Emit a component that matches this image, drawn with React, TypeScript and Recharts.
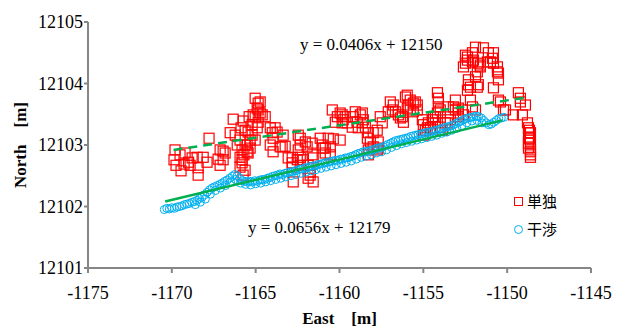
import { ScatterChart, Scatter, XAxis, YAxis, Label } from "recharts";

const xTicks = [-1175, -1170, -1165, -1160, -1155, -1150, -1145];
const yTicks = [12101, 12102, 12103, 12104, 12105];

// 単独 (single) – red squares
const tandokuPts: [number, number][] = [
  [-1169.81, 12102.92], [-1169.87, 12102.76], [-1169.75, 12102.67], [-1169.45, 12102.58],
  [-1169.21, 12102.87], [-1169.27, 12102.69], [-1169.51, 12102.84], [-1168.91, 12102.67],
  [-1168.79, 12102.79], [-1168.49, 12102.8], [-1168.43, 12102.63], [-1168.43, 12102.51],
  [-1168.13, 12102.8], [-1167.9, 12102.72], [-1167.78, 12103.11], [-1167.24, 12102.77],
  [-1167.12, 12102.92], [-1166.94, 12102.9], [-1167.12, 12102.67], [-1166.82, 12102.87],
  [-1166.94, 12102.76], [-1169.0, 12102.72],
  [-1166.34, 12103.42], [-1166.52, 12103.2], [-1165.75, 12103.39], [-1165.87, 12103.28],
  [-1165.39, 12103.46], [-1166.22, 12103.16], [-1165.93, 12103.08], [-1165.63, 12103.24],
  [-1165.45, 12103.21], [-1165.63, 12103.0], [-1165.81, 12102.92], [-1165.51, 12103.0],
  [-1165.45, 12102.87], [-1165.93, 12102.8], [-1165.81, 12102.76], [-1165.51, 12102.89],
  [-1165.93, 12102.64], [-1165.81, 12102.71], [-1165.75, 12102.51], [-1165.63, 12102.59],
  [-1165.33, 12103.08], [-1165.21, 12103.33], [-1165.03, 12103.76], [-1164.85, 12103.68],
  [-1164.73, 12103.7], [-1164.91, 12103.6], [-1164.85, 12103.57], [-1164.73, 12103.52],
  [-1164.61, 12103.49], [-1165.15, 12103.49], [-1165.03, 12103.46], [-1164.43, 12103.46],
  [-1164.85, 12103.37], [-1164.91, 12103.28], [-1165.03, 12103.08], [-1165.21, 12103.16],
  [-1165.33, 12102.95], [-1166.1, 12103.0], [-1165.7, 12102.84],
  [-1164.13, 12103.28], [-1163.84, 12103.28], [-1164.01, 12103.2], [-1163.72, 12103.21],
  [-1163.96, 12103.11], [-1164.13, 12103.0], [-1163.96, 12102.89], [-1163.42, 12102.97],
  [-1163.24, 12102.98], [-1163.54, 12102.97], [-1163.06, 12102.79], [-1163.36, 12103.16],
  [-1162.34, 12103.11], [-1162.04, 12103.05], [-1162.34, 12103.0], [-1161.93, 12102.97],
  [-1162.46, 12102.92], [-1162.82, 12102.8], [-1162.34, 12102.8], [-1162.16, 12102.76],
  [-1161.63, 12102.84], [-1161.57, 12102.79], [-1162.82, 12102.64], [-1162.34, 12102.67],
  [-1161.87, 12102.67], [-1161.75, 12102.56], [-1162.76, 12102.4], [-1161.87, 12102.46],
  [-1161.57, 12102.4], [-1162.52, 12102.76], [-1162.82, 12102.71], [-1161.75, 12102.51],
  [-1162.46, 12103.16], [-1161.63, 12103.03],
  [-1160.43, 12103.57], [-1160.13, 12103.46], [-1160.25, 12103.37], [-1159.84, 12103.49],
  [-1159.78, 12103.41], [-1159.54, 12103.36], [-1161.15, 12103.11], [-1160.67, 12103.11],
  [-1160.37, 12103.1], [-1161.03, 12103.0], [-1160.85, 12102.95], [-1160.55, 12102.97],
  [-1160.85, 12102.87], [-1160.55, 12102.84], [-1160.97, 12102.95], [-1159.96, 12103.52],
  [-1159.66, 12103.46], [-1159.84, 12103.36], [-1159.96, 12103.08], [-1159.24, 12103.29],
  [-1159.06, 12103.54], [-1158.64, 12103.52], [-1159.18, 12103.46], [-1158.94, 12103.37],
  [-1158.58, 12103.41], [-1158.88, 12103.28], [-1158.46, 12103.29], [-1158.76, 12103.49],
  [-1158.64, 12103.36], [-1158.28, 12103.2], [-1157.99, 12103.2], [-1158.34, 12103.11],
  [-1157.75, 12103.24], [-1158.16, 12103.05], [-1157.69, 12103.05], [-1157.99, 12102.97],
  [-1157.75, 12102.92], [-1158.28, 12102.84], [-1157.69, 12102.95], [-1158.28, 12102.92],
  [-1157.57, 12103.46], [-1157.45, 12103.36],
  [-1156.97, 12103.7], [-1156.79, 12103.65], [-1157.09, 12103.54], [-1156.67, 12103.54],
  [-1156.49, 12103.49], [-1156.85, 12103.57], [-1156.37, 12103.44], [-1156.25, 12103.46],
  [-1156.19, 12103.37], [-1155.96, 12103.81], [-1155.78, 12103.73], [-1155.9, 12103.65],
  [-1155.78, 12103.57], [-1155.48, 12103.7], [-1155.36, 12103.65], [-1155.6, 12103.54],
  [-1156.07, 12103.78], [-1155.6, 12103.68], [-1155.36, 12103.57], [-1155.96, 12103.6],
  [-1155.06, 12103.41], [-1155.0, 12103.33], [-1154.7, 12103.36], [-1154.88, 12103.24],
  [-1154.58, 12103.28], [-1154.4, 12103.46], [-1154.28, 12103.36], [-1154.76, 12103.28],
  [-1155.0, 12103.16], [-1154.46, 12103.41],
  [-1154.16, 12103.85], [-1154.1, 12103.76], [-1154.1, 12103.7], [-1154.1, 12103.62],
  [-1153.99, 12103.57], [-1154.28, 12103.46], [-1154.16, 12103.52], [-1153.51, 12103.62],
  [-1153.09, 12103.73], [-1153.21, 12103.62], [-1152.91, 12103.6], [-1152.67, 12103.57],
  [-1152.19, 12103.73], [-1152.07, 12103.62], [-1151.89, 12103.57], [-1153.99, 12103.29],
  [-1153.69, 12103.36], [-1153.87, 12103.24], [-1153.39, 12103.41], [-1152.91, 12103.52],
  [-1152.61, 12103.49], [-1153.57, 12103.36], [-1153.09, 12103.57], [-1152.91, 12103.46],
  [-1151.89, 12104.59], [-1151.42, 12104.58], [-1152.07, 12104.5], [-1152.37, 12104.43],
  [-1152.49, 12104.33], [-1152.61, 12104.27], [-1152.01, 12104.38], [-1151.72, 12104.33],
  [-1151.6, 12104.27], [-1151.78, 12104.19], [-1151.89, 12104.11], [-1152.31, 12104.06],
  [-1152.31, 12103.98], [-1152.37, 12103.89], [-1151.72, 12103.98], [-1152.19, 12103.94],
  [-1152.49, 12104.46], [-1152.37, 12104.38], [-1152.07, 12104.35], [-1151.6, 12104.3],
  [-1151.78, 12103.94], [-1151.12, 12104.5], [-1150.88, 12104.41], [-1151.0, 12104.35],
  [-1150.82, 12104.33], [-1150.58, 12104.27], [-1150.52, 12104.17], [-1150.52, 12104.06],
  [-1150.82, 12103.93], [-1150.82, 12104.5], [-1151.18, 12104.35], [-1150.58, 12104.19],
  [-1150.4, 12103.7], [-1150.1, 12103.57], [-1149.63, 12103.49], [-1149.33, 12103.85],
  [-1149.21, 12103.76], [-1148.91, 12103.65], [-1149.09, 12103.49], [-1148.79, 12103.36],
  [-1148.73, 12103.28], [-1148.61, 12103.2], [-1148.73, 12103.13], [-1148.61, 12103.03],
  [-1148.73, 12102.95], [-1148.61, 12102.89], [-1148.61, 12102.84], [-1149.21, 12103.7],
  [-1150.22, 12103.57], [-1150.52, 12103.73], [-1148.73, 12103.03], [-1148.61, 12102.92],
  [-1148.61, 12102.8], [-1148.67, 12103.24], [-1148.67, 12103.1],
];

// 干渉 (interference) – cyan circles, main band
const kanshoPts: [number, number][] = [
  [-1170.45, 12101.95], [-1170.3, 12101.97], [-1170.15, 12101.96], [-1170.0, 12101.98],
  [-1169.85, 12101.97], [-1169.7, 12101.99], [-1169.55, 12102.0], [-1169.4, 12102.01],
  [-1169.25, 12102.03], [-1169.1, 12102.04], [-1168.95, 12102.05], [-1168.8, 12102.07],
  [-1168.65, 12102.08], [-1168.5, 12102.1], [-1168.35, 12102.13], [-1168.2, 12102.15],
  [-1168.05, 12102.19], [-1167.9, 12102.23], [-1167.75, 12102.27], [-1167.6, 12102.3],
  [-1167.45, 12102.32], [-1167.3, 12102.34], [-1167.15, 12102.36], [-1167.0, 12102.38],
  [-1166.85, 12102.41], [-1166.7, 12102.43], [-1166.55, 12102.46], [-1166.4, 12102.49],
  [-1166.25, 12102.52], [-1166.1, 12102.5], [-1165.95, 12102.46], [-1165.8, 12102.42],
  [-1165.65, 12102.41], [-1165.5, 12102.4], [-1165.35, 12102.41], [-1165.2, 12102.4],
  [-1165.05, 12102.42], [-1164.9, 12102.41], [-1164.75, 12102.43], [-1164.6, 12102.44],
  [-1164.45, 12102.44], [-1164.3, 12102.46], [-1164.15, 12102.47], [-1164.0, 12102.49],
  [-1163.85, 12102.5], [-1163.7, 12102.51], [-1163.55, 12102.53], [-1163.4, 12102.52],
  [-1163.25, 12102.54], [-1163.1, 12102.55], [-1162.95, 12102.56], [-1162.8, 12102.57],
  [-1162.65, 12102.58], [-1162.5, 12102.59], [-1162.35, 12102.61], [-1162.2, 12102.61],
  [-1162.05, 12102.63], [-1161.9, 12102.63], [-1161.75, 12102.65], [-1161.6, 12102.66],
  [-1161.45, 12102.66], [-1161.3, 12102.68], [-1161.15, 12102.69], [-1161.0, 12102.7],
  [-1160.85, 12102.71], [-1160.7, 12102.72], [-1160.55, 12102.73], [-1160.4, 12102.74],
  [-1160.25, 12102.75], [-1160.1, 12102.75], [-1159.95, 12102.77], [-1159.8, 12102.77],
  [-1159.65, 12102.79], [-1159.5, 12102.79], [-1159.35, 12102.81], [-1159.2, 12102.82],
  [-1159.05, 12102.84], [-1158.9, 12102.86], [-1158.75, 12102.87], [-1158.6, 12102.89],
  [-1158.45, 12102.89], [-1158.3, 12102.9], [-1158.15, 12102.91], [-1158.0, 12102.92],
  [-1157.85, 12102.94], [-1157.7, 12102.95], [-1157.55, 12102.96], [-1157.4, 12102.97],
  [-1157.25, 12102.99], [-1157.1, 12103.01], [-1156.95, 12103.03], [-1156.8, 12103.05],
  [-1156.65, 12103.07], [-1156.5, 12103.08], [-1156.35, 12103.09], [-1156.2, 12103.1],
  [-1156.05, 12103.11], [-1155.9, 12103.12], [-1155.75, 12103.14], [-1155.6, 12103.15],
  [-1155.45, 12103.16], [-1155.3, 12103.17], [-1155.15, 12103.18], [-1155.0, 12103.19],
  [-1154.85, 12103.2], [-1154.7, 12103.21], [-1154.55, 12103.21], [-1154.4, 12103.23],
  [-1154.25, 12103.24], [-1154.1, 12103.25], [-1153.95, 12103.26], [-1153.8, 12103.28],
  [-1153.65, 12103.29], [-1153.5, 12103.3], [-1153.35, 12103.31], [-1153.2, 12103.33],
  [-1153.05, 12103.35], [-1152.9, 12103.37], [-1152.75, 12103.39], [-1152.6, 12103.41],
  [-1152.45, 12103.43], [-1152.3, 12103.44], [-1152.15, 12103.45], [-1152.0, 12103.46],
  [-1151.85, 12103.47], [-1151.7, 12103.46], [-1151.55, 12103.44], [-1151.4, 12103.4],
  [-1151.25, 12103.36], [-1151.1, 12103.33], [-1150.95, 12103.34], [-1150.8, 12103.37],
  [-1150.65, 12103.4], [-1150.5, 12103.43], [-1150.35, 12103.44], [-1150.2, 12103.45],
];

// 干渉 – lower edge of the band
const kanshoEdgePts: [number, number][] = [
  [-1168.6, 12102.03], [-1168.3, 12102.07], [-1168.0, 12102.12], [-1167.7, 12102.2],
  [-1167.4, 12102.26], [-1167.1, 12102.3], [-1166.8, 12102.34], [-1166.5, 12102.4],
  [-1166.2, 12102.44], [-1165.9, 12102.38], [-1165.6, 12102.36], [-1165.3, 12102.35],
  [-1165.0, 12102.37], [-1164.7, 12102.38], [-1164.4, 12102.4], [-1164.1, 12102.42],
  [-1163.8, 12102.44], [-1163.5, 12102.46], [-1163.2, 12102.48], [-1162.9, 12102.5],
  [-1162.6, 12102.52], [-1162.3, 12102.54], [-1162.0, 12102.56], [-1161.7, 12102.58],
  [-1161.4, 12102.6], [-1161.1, 12102.62], [-1160.8, 12102.64], [-1160.5, 12102.66],
  [-1160.2, 12102.68], [-1159.9, 12102.7], [-1159.6, 12102.72], [-1159.3, 12102.74],
  [-1159.0, 12102.77], [-1158.7, 12102.8], [-1158.4, 12102.82], [-1158.1, 12102.84],
  [-1157.8, 12102.87], [-1157.5, 12102.89], [-1157.2, 12102.92], [-1156.9, 12102.96],
  [-1156.6, 12102.99], [-1156.3, 12103.02], [-1156.0, 12103.04], [-1155.7, 12103.06],
  [-1155.4, 12103.08], [-1155.1, 12103.1], [-1154.8, 12103.12], [-1154.5, 12103.14],
  [-1154.2, 12103.16], [-1153.9, 12103.19], [-1153.6, 12103.21], [-1153.3, 12103.24],
  [-1153.0, 12103.27], [-1152.7, 12103.31], [-1152.4, 12103.36], [-1152.1, 12103.39],
  [-1151.8, 12103.4], [-1151.5, 12103.36],
];

// linear trend lines (end points)
const tandokuTrend: [number, number][] = [[-1169.9, 12102.92], [-1148.9, 12103.77]];
const kanshoTrend: [number, number][] = [[-1170.4, 12102.08], [-1150.3, 12103.4]];

const RED = "#FF0000";
const CYAN = "#00B0F0";
const GREEN = "#00B050";
const AXIS = "#868686";
const SERIF = '"Liberation Serif", "Times New Roman", serif';
const GOTHIC = '"Noto Sans CJK JP", sans-serif';

const toRows = (pts: [number, number][]) => pts.map(([x, y]) => ({ x, y }));

const SquareDot = (props: any) => {
  const { cx, cy } = props;
  return <rect x={cx - 5} y={cy - 5} width={10} height={10} fill="none" stroke={RED} strokeWidth={1.2} />;
};

const CircleDot = (props: any) => {
  const { cx, cy } = props;
  return <circle cx={cx} cy={cy} r={4} fill="none" stroke={CYAN} strokeWidth={1} />;
};

const NoDot = () => <g />;

const noteStyle: React.CSSProperties = {
  position: "absolute",
  fontFamily: SERIF,
  fontSize: 17,
  lineHeight: "17px",
  whiteSpace: "nowrap",
  color: "#000",
};

export default function App() {
  return (
    <div style={{ position: "absolute", left: 0, top: 0, width: 627, height: 327, background: "#fff" }}>
      <ScatterChart width={627} height={327} margin={{ top: 22, right: 36, bottom: 0, left: 0 }}>
        <XAxis
          type="number"
          dataKey="x"
          domain={[-1175, -1145]}
          ticks={xTicks}
          height={59}
          axisLine={{ stroke: AXIS, strokeWidth: 2 }}
          tickLine={{ stroke: AXIS, strokeWidth: 2 }}
          tickSize={5}
          tickMargin={13}
          tick={{ fill: "#000", fontSize: 18, fontFamily: SERIF }}
        >
          <Label
            value="East　[m]"
            position="insideBottom"
            offset={3}
            style={{ fill: "#000", fontSize: 17, fontWeight: 700, fontFamily: SERIF }}
          />
        </XAxis>
        <YAxis
          type="number"
          dataKey="y"
          domain={[12101, 12105]}
          ticks={yTicks}
          width={88}
          axisLine={{ stroke: AXIS, strokeWidth: 2 }}
          tickLine={{ stroke: AXIS, strokeWidth: 2 }}
          tickSize={4}
          tickMargin={1}
          tick={{ fill: "#000", fontSize: 18, fontFamily: SERIF }}
        >
          <Label
            value="North　[m]"
            angle={-90}
            position="insideLeft"
            offset={20}
            style={{ fill: "#000", fontSize: 17, fontWeight: 700, fontFamily: SERIF, textAnchor: "middle" }}
          />
        </YAxis>
        <Scatter name="単独" data={toRows(tandokuPts)} shape={SquareDot} isAnimationActive={false} />
        <Scatter name="干渉" data={toRows(kanshoEdgePts)} shape={CircleDot} isAnimationActive={false} />
        <Scatter name="干渉" data={toRows(kanshoPts)} shape={CircleDot} isAnimationActive={false} />
        <Scatter
          data={toRows(tandokuTrend)}
          shape={NoDot}
          line={{ stroke: GREEN, strokeWidth: 2.5, strokeDasharray: "9 6" }}
          isAnimationActive={false}
        />
        <Scatter
          data={toRows(kanshoTrend)}
          shape={NoDot}
          line={{ stroke: GREEN, strokeWidth: 2.5 }}
          isAnimationActive={false}
        />
      </ScatterChart>

      <div style={{ ...noteStyle, left: 300, top: 36 }}>y = 0.0406x + 12150</div>
      <div style={{ ...noteStyle, left: 248, top: 219 }}>y = 0.0656x + 12179</div>

      <div style={{ position: "absolute", left: 514, top: 187, fontFamily: GOTHIC, fontSize: 15, lineHeight: "28px" }}>
        <div style={{ display: "flex", alignItems: "center" }}>
          <span style={{ width: 7, height: 7, border: `1.3px solid ${RED}`, marginRight: 4 }} />
          <span>単独</span>
        </div>
        <div style={{ display: "flex", alignItems: "center" }}>
          <span style={{ width: 7, height: 7, border: `1.3px solid ${CYAN}`, borderRadius: "50%", marginRight: 4 }} />
          <span>干渉</span>
        </div>
      </div>
    </div>
  );
}
